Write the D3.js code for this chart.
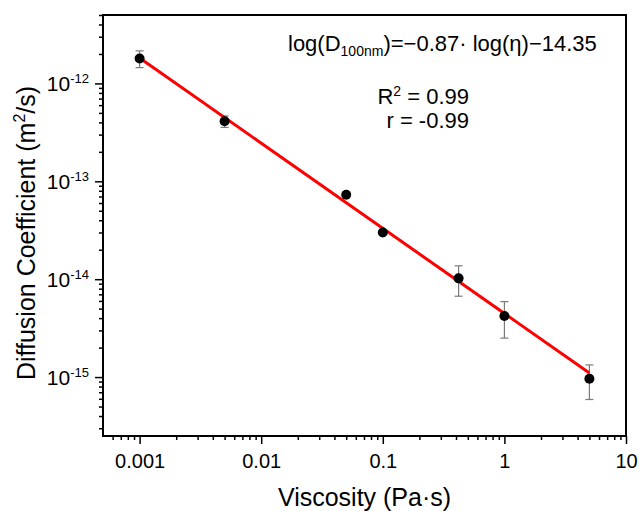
<!DOCTYPE html>
<html>
<head>
<meta charset="utf-8">
<script src="https://cdn.jsdelivr.net/npm/d3@7"></script>
<style>
  body { margin: 0; background: #fff; }
  svg { font-family: Arial, "Liberation Sans", sans-serif; }
</style>
</head>
<body>
<div id="chart"></div>
<script>
// data
const viscosity = [0.001, 0.005, 0.05, 0.1, 0.42, 1, 5]
const diffusion = [1.8e-12, 4.1e-13, 7.3e-14, 3.0e-14, 1.02e-14, 4.2e-15, 9.6e-16]
const diffErr = [0.35e-12, 0.55e-13, 0.3e-14, 0.1e-14, 0.35e-14, 1.7e-15, 0.37e-15]
const fitX = [0.001, 5]
const fitY = [1.82e-12, 1.1e-15]
const xTicks = [0.001, 0.01, 0.1, 1, 10]
const xTickLabels = ['0.001', '0.01', '0.1', '1', '10']
const yTicks = [1e-12, 1e-13, 1e-14, 1e-15]
const yTickExp = ['-12', '-13', '-14', '-15']

const width = 639, height = 511
const margin = { top: 15, right: 13, bottom: 75, left: 103 }

const svg = d3.select('#chart').append('svg')
  .attr('width', width)
  .attr('height', height)

const x = d3.scaleLog().domain([0.0005, 10]).range([margin.left, width - margin.right])
const y = d3.scaleLog().domain([2.5e-16, 5e-12]).range([height - margin.bottom, margin.top])

// minor ticks, 2..9 in every decade
const minorX = []
for (let e = -4; e <= 0; e++) for (let m = 2; m <= 9; m++) {
  const v = m * Math.pow(10, e)
  if (v > 0.0005 && v < 10) minorX.push(v)
}
const minorY = []
for (let e = -16; e <= -12; e++) for (let m = 2; m <= 9; m++) {
  const v = m * Math.pow(10, e)
  if (v > 2.5e-16 && v <= 5e-12) minorY.push(v)
}

const bottom = height - margin.bottom

svg.append('g')
  .attr('transform', `translate(0,${bottom})`)
  .call(d3.axisBottom(x).tickValues(minorX).tickSize(4).tickFormat(''))
  .call(g => g.select('.domain').remove())

svg.append('g')
  .attr('transform', `translate(0,${bottom})`)
  .call(d3.axisBottom(x).tickValues(xTicks).tickSize(8).tickPadding(10)
    .tickFormat((d, i) => xTickLabels[i]))
  .call(g => g.select('.domain').remove())
  .call(g => g.selectAll('text').attr('font-size', 20).attr('fill', '#000')
    .attr('font-family', 'Arial, "Liberation Sans", sans-serif'))

svg.append('g')
  .attr('transform', `translate(${margin.left},0)`)
  .call(d3.axisLeft(y).tickValues(minorY).tickSize(4).tickFormat(''))
  .call(g => g.select('.domain').remove())

const yAxis = svg.append('g')
  .attr('transform', `translate(${margin.left},0)`)
  .call(d3.axisLeft(y).tickValues(yTicks).tickSize(8).tickFormat(''))
  .call(g => g.select('.domain').remove())

yAxis.selectAll('.tick').each(function (d, i) {
  const t = d3.select(this).append('text')
    .attr('x', -14)
    .attr('y', 7)
    .attr('text-anchor', 'end')
    .attr('fill', '#000')
    .attr('font-size', 21)
  t.append('tspan').text('10')
  t.append('tspan').attr('font-size', 13).attr('dy', -8).text(yTickExp[i])
})

svg.selectAll('.tick line').attr('stroke', '#000').attr('stroke-width', 1.5)

// frame
svg.append('rect')
  .attr('x', margin.left)
  .attr('y', margin.top)
  .attr('width', width - margin.right - margin.left)
  .attr('height', bottom - margin.top)
  .attr('fill', 'none')
  .attr('stroke', '#000')
  .attr('stroke-width', 2)

// error bars
const pts = viscosity.map((v, i) => ({ v, d: diffusion[i], e: diffErr[i] }))
const eb = svg.append('g').attr('stroke', '#7a7a7a').attr('stroke-width', 1.2)
pts.forEach(p => {
  const cx = x(p.v), y0 = y(p.d - p.e), y1 = y(p.d + p.e)
  eb.append('line').attr('x1', cx).attr('x2', cx).attr('y1', y0).attr('y2', y1)
  eb.append('line').attr('x1', cx - 4).attr('x2', cx + 4).attr('y1', y0).attr('y2', y0)
  eb.append('line').attr('x1', cx - 4).attr('x2', cx + 4).attr('y1', y1).attr('y2', y1)
})

// fitted line
svg.append('path')
  .datum(fitX.map((v, i) => [v, fitY[i]]))
  .attr('fill', 'none')
  .attr('stroke', '#ff0000')
  .attr('stroke-width', 3)
  .attr('d', d3.line().x(d => x(d[0])).y(d => y(d[1])))

svg.append('g').selectAll('circle')
  .data(pts)
  .join('circle')
  .attr('cx', d => x(d.v))
  .attr('cy', d => y(d.d))
  .attr('r', 5)
  .attr('fill', '#000')

// annotations
const eq = svg.append('text')
  .attr('x', 288).attr('y', 51)
  .attr('font-size', 22)
eq.append('tspan').text('log(D')
eq.append('tspan').attr('font-size', 14).attr('dy', 5).text('100nm')
eq.append('tspan').attr('dy', -5).text(')=\u22120.87\u00b7  log(\u03b7)\u221214.35')

const r2 = svg.append('text')
  .attr('x', 469).attr('y', 104)
  .attr('text-anchor', 'end')
  .attr('font-size', 22)
r2.append('tspan').text('R')
r2.append('tspan').attr('font-size', 14).attr('dy', -8).text('2')
r2.append('tspan').attr('dy', 8).text(' = 0.99')

svg.append('text')
  .attr('x', 469).attr('y', 128)
  .attr('text-anchor', 'end')
  .attr('font-size', 22)
  .text('r = -0.99')

// axis titles
svg.append('text')
  .attr('x', (margin.left + width - margin.right) / 2)
  .attr('y', 506)
  .attr('text-anchor', 'middle')
  .attr('font-size', 25)
  .text('Viscosity (Pa\u00b7s)')

const yt = svg.append('text')
  .attr('transform', 'translate(35,233) rotate(-90)')
  .attr('text-anchor', 'middle')
  .attr('font-size', 25)
yt.append('tspan').text('Diffusion Coefficient (m')
yt.append('tspan').attr('font-size', 16).attr('dy', -10).text('2')
yt.append('tspan').attr('dy', 10).text('/s)')
</script>
</body>
</html>
